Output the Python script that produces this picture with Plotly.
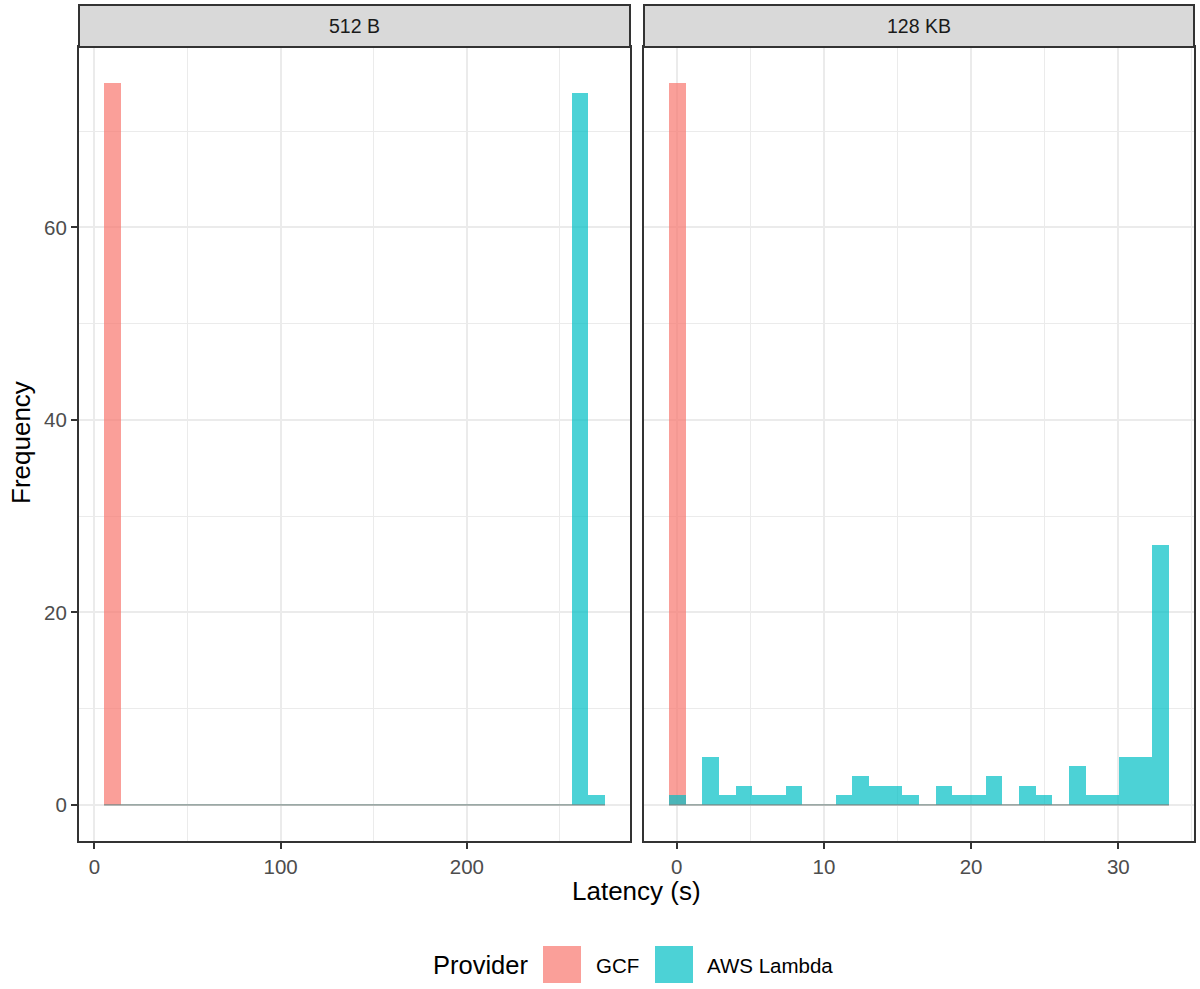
import numpy as np
import plotly.graph_objects as go

# ---------------- data ----------------
panels = ["512 B", "128 KB"]
providers = ["GCF", "AWS Lambda"]

# histogram bins (30 bins per panel): first left edge and bin width
bin_start_512 = 5.15
bin_width_512 = 8.967
bin_start_128 = -0.52
bin_width_128 = 1.132

gcf_512 = [75] + [0] * 29
aws_512 = [0] * 28 + [74, 1]
gcf_128 = [75] + [0] * 29
aws_128 = [1, 0, 5, 1, 2, 1, 1, 2, 0, 0,
           1, 3, 2, 2, 1, 0, 2, 1, 1, 3,
           0, 2, 1, 0, 4, 1, 1, 5, 5, 27]

y_ticks = [0, 20, 40, 60]
x_ticks_512 = [0, 100, 200]
x_ticks_128 = [0, 10, 20, 30]

# ---------------- style ----------------
W, H = 1200, 989
FONT = "Liberation Sans, Arial, sans-serif"
fill = {"GCF": "rgba(248,118,109,0.7)", "AWS Lambda": "rgba(0,191,196,0.7)"}
line0 = {"GCF": "rgba(248,118,109,0.7)", "AWS Lambda": "rgba(60,150,150,0.8)"}
GRID = "#EBEBEB"
DARK = "#333333"
SMALL = 20.5
BIG = 26

def px(x):
    return x / W

def py(y):
    return 1 - y / H

xdom = [[px(79), px(630)], [px(644), px(1194)]]
ydom = [py(841), py(47)]

fig = go.Figure()

series = [
    (bin_start_512, bin_width_512, {"GCF": gcf_512, "AWS Lambda": aws_512}, "x", "y"),
    (bin_start_128, bin_width_128, {"GCF": gcf_128, "AWS Lambda": aws_128}, "x2", "y2"),
]
for start, width, counts, xa, ya in series:
    nb = len(counts["GCF"])
    centers = start + width * (np.arange(nb) + 0.5)
    for prov in providers:
        fig.add_trace(go.Bar(
            x=centers, y=counts[prov], width=width,
            marker=dict(color=fill[prov], line=dict(width=0)),
            xaxis=xa, yaxis=ya, showlegend=False, name=prov,
        ))
    for prov in providers:
        fig.add_trace(go.Scatter(
            x=[start, start + width * nb], y=[0, 0], mode="lines",
            line=dict(color=line0[prov], width=1),
            xaxis=xa, yaxis=ya, showlegend=False, hoverinfo="skip",
        ))

tickfont = dict(family=FONT, size=SMALL, color="#4D4D4D")
common_x = dict(showline=True, linecolor=DARK, linewidth=2, mirror=True,
                ticks="outside", ticklen=6, tickwidth=2, tickcolor=DARK,
                showgrid=True, gridcolor=GRID, gridwidth=2.2, zeroline=False,
                tickfont=tickfont)
common_y = dict(showline=True, linecolor=DARK, linewidth=2, mirror=True,
                showgrid=True, gridcolor=GRID, gridwidth=2.2, zeroline=False,
                range=[-3.75, 78.75], domain=ydom, tickvals=y_ticks,
                minor=dict(dtick=10, tick0=0, showgrid=True, gridcolor=GRID, gridwidth=1.2),
                tickfont=tickfont)

fig.update_layout(
    width=W, height=H,
    margin=dict(l=0, r=0, t=0, b=0),
    paper_bgcolor="white", plot_bgcolor="white",
    barmode="overlay", bargap=0,
    showlegend=False,
    font=dict(family=FONT),
    xaxis=dict(domain=xdom[0], range=[-8.3, 287.6], tickvals=x_ticks_512,
               minor=dict(dtick=50, tick0=0, showgrid=True, gridcolor=GRID, gridwidth=1.2),
               anchor="y", **common_x),
    xaxis2=dict(domain=xdom[1], range=[-2.22, 35.14], tickvals=x_ticks_128,
                minor=dict(dtick=5, tick0=0, showgrid=True, gridcolor=GRID, gridwidth=1.2),
                anchor="y2", **common_x),
    yaxis=dict(anchor="x", ticks="outside", ticklen=6, tickwidth=2, tickcolor=DARK,
               **common_y),
    yaxis2=dict(anchor="x2", matches="y", ticks="", showticklabels=False, **common_y),
)

shapes = []
annotations = []
# facet strips
for i, name in enumerate(panels):
    shapes.append(dict(type="rect", xref="paper", yref="paper",
                       x0=xdom[i][0], x1=xdom[i][1], y0=py(47), y1=py(5),
                       fillcolor="#D9D9D9", line=dict(color=DARK, width=2), layer="above"))
    annotations.append(dict(text=name, xref="paper", yref="paper",
                            x=(xdom[i][0] + xdom[i][1]) / 2, y=py(26),
                            xanchor="center", yanchor="middle", showarrow=False,
                            font=dict(family=FONT, size=19.5, color="#1A1A1A")))

# axis titles
annotations.append(dict(text="Latency (s)", xref="paper", yref="paper",
                        x=px(636.5), y=py(891), xanchor="center", yanchor="middle",
                        showarrow=False, font=dict(family=FONT, size=BIG, color="black")))
annotations.append(dict(text="Frequency", xref="paper", yref="paper",
                        x=px(21), y=py(443), xanchor="center", yanchor="middle",
                        textangle=-90, showarrow=False,
                        font=dict(family=FONT, size=BIG, color="black")))

# legend (drawn manually to match key size)
annotations.append(dict(text="Provider", xref="paper", yref="paper",
                        x=px(431), y=py(965), xanchor="left", yanchor="middle",
                        showarrow=False, font=dict(family=FONT, size=25.5, color="black")))
key_pos = {"GCF": (543, 596), "AWS Lambda": (655, 707)}
for prov in providers:
    kx, tx = key_pos[prov]
    shapes.append(dict(type="rect", xref="paper", yref="paper",
                       x0=px(kx), x1=px(kx + 38), y0=py(983), y1=py(946),
                       fillcolor=fill[prov], line=dict(width=0)))
    annotations.append(dict(text=prov, xref="paper", yref="paper",
                            x=px(tx - 2), y=py(965), xanchor="left", yanchor="middle",
                            showarrow=False, font=dict(family=FONT, size=SMALL, color="black")))

fig.update_layout(shapes=shapes, annotations=annotations)
fig.write_html("out.html")
